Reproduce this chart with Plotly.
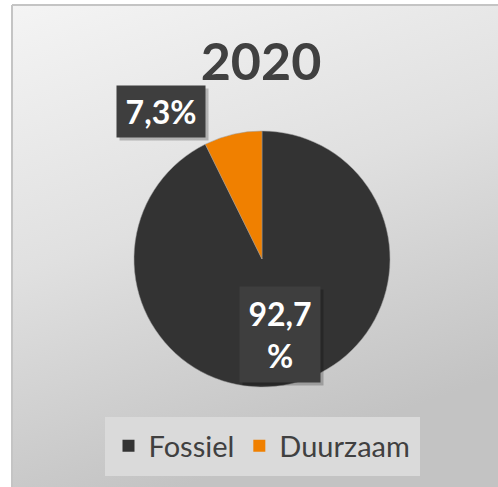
"""Taartdiagram energiemix 2020: fossiel vs duurzaam."""

import base64

import plotly.graph_objects as go

# ── Data ──
categories = ["Fossiel", "Duurzaam"]
shares = [92.7, 7.3]
colors = ["#333333", "#F08000"]
title_text = "2020"

W, H = 498, 487


def nl_pct(v):
    return f"{v:.1f}".replace(".", ",") + "%"


# ── Achtergrond: grijs verloop als SVG data-URI ──
svg = (
    '<svg xmlns="http://www.w3.org/2000/svg" width="486" height="482" '
    'preserveAspectRatio="none">'
    '<defs><linearGradient id="g" x1="0" y1="0" x2="0.35" y2="1">'
    '<stop offset="0" stop-color="#f4f4f4"/>'
    '<stop offset="0.5" stop-color="#e0e0e0"/>'
    '<stop offset="1" stop-color="#c3c3c3"/>'
    '</linearGradient></defs>'
    '<rect width="486" height="482" fill="url(#g)"/></svg>'
)
bg_src = "data:image/svg+xml;base64," + base64.b64encode(svg.encode()).decode()

fig = go.Figure()

fig.add_trace(go.Pie(
    labels=categories, values=shares, sort=False, direction="clockwise",
    rotation=0, marker=dict(colors=colors, line=dict(color="#9a9a9a", width=0.5)),
    textinfo="none", hoverinfo="label+percent", showlegend=False,
    domain=dict(x=[134 / W, 390 / W], y=[1 - 387 / H, 1 - 131 / H]),
))

# dummy traces voor de legenda (grotere vierkantjes dan de pie-legenda)
for name, col in zip(categories, colors):
    fig.add_trace(go.Scatter(
        x=[None], y=[None], mode="markers", name=name,
        marker=dict(symbol="square", size=16, color=col),
    ))

# ── Labels in donkere kaders ──
label_pos = {
    "Duurzaam": dict(x=161 / W, y=1 - 111 / H, w=88, h=51, text=nl_pct(shares[1])),
    "Fossiel": dict(x=280 / W, y=1 - 334 / H, w=80, h=95,
                    text=nl_pct(shares[0]).replace("%", "<br>%")),
}
for name in categories:
    p = label_pos[name]
    common = dict(x=p["x"], y=p["y"], xref="paper", yref="paper",
                  xanchor="center", yanchor="middle", showarrow=False,
                  width=p["w"], height=p["h"], borderpad=0)
    # schaduw
    fig.add_annotation(text=" ", bgcolor="rgba(0,0,0,0.22)", xshift=3, yshift=-3, **common)
    fig.add_annotation(
        text=f"<b>{p['text']}</b>", bgcolor="#3e3e3e",
        font=dict(family="Lato", size=32, color="white"), **common,
    )

# ── Witte strook + randjes links en boven ──
fig.add_shape(type="rect", xref="paper", yref="paper", x0=0, x1=12 / W, y0=0, y1=1,
              fillcolor="white", line_width=0, layer="below")
fig.add_shape(type="rect", xref="paper", yref="paper", x0=0, x1=1, y0=1 - 5 / H, y1=1,
              fillcolor="white", line_width=0, layer="below")
fig.add_shape(type="line", xref="paper", yref="paper",
              x0=12 / W, x1=1, y0=1 - 5 / H, y1=1 - 5 / H,
              line=dict(color="#c4c4c4", width=2))
fig.add_shape(type="line", xref="paper", yref="paper",
              x0=12 / W, x1=12 / W, y0=0, y1=1 - 5 / H,
              line=dict(color="#c4c4c4", width=2))

fig.update_layout(
    width=W, height=H,
    margin=dict(l=0, r=0, t=0, b=0),
    paper_bgcolor="#c6c6c6", plot_bgcolor="rgba(0,0,0,0)",
    images=[dict(source=bg_src, xref="paper", yref="paper",
                 x=12 / W, y=1 - 5 / H, sizex=1 - 12 / W, sizey=1 - 5 / H,
                 xanchor="left", yanchor="top", sizing="stretch", layer="below")],
    title=dict(text=f"<b>{title_text}</b>", x=261 / W, y=1 - 62 / H,
               xanchor="center", yanchor="middle",
               font=dict(family="Lato", size=52, color="#404040")),
    xaxis=dict(visible=False), yaxis=dict(visible=False),
    showlegend=True,
    legend=dict(orientation="h", x=262 / W, y=1 - 446 / H,
                xanchor="center", yanchor="middle",
                bgcolor="#dadada", bordercolor="#dadada", borderwidth=4,
                font=dict(family="Lato", size=29, color="#404040"),
                itemsizing="constant"),
)

fig.write_html(
    "out.html",
    config={"displayModeBar": False},
    post_script="document.body.style.margin='0';document.body.style.overflow='hidden';",
)
